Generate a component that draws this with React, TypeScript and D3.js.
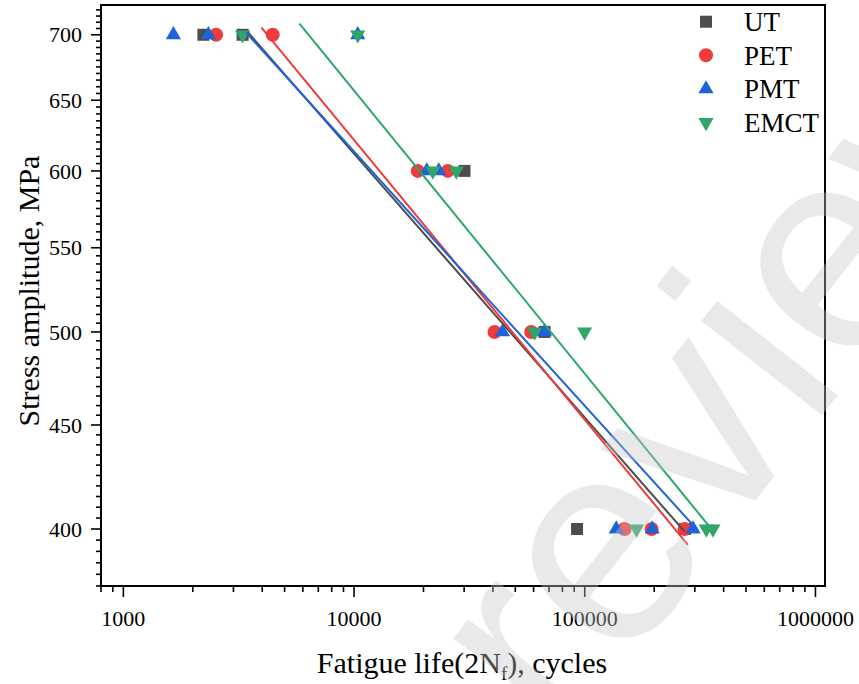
import React, { useEffect, useRef } from 'react';
import * as d3 from 'd3';

// fatigue life (2Nf) and stress amplitude (MPa)
const utLife = [2223, 3289, 30110, 66940, 92600, 272000];
const utStress = [700, 700, 600, 500, 400, 400];

const petLife = [2523, 4441, 18888, 25490, 40630, 58610, 148800, 194900, 270900];
const petStress = [700, 700, 600, 600, 500, 500, 400, 400, 400];

const pmtLife = [1648, 2337, 10375, 20670, 23300, 44000, 66940, 136950, 196200, 294900];
const pmtStress = [700, 700, 700, 600, 600, 500, 500, 400, 400, 400];

const emctLife = [3289, 10375, 21950, 27730, 60570, 99800, 167700, 336400, 359400];
const emctStress = [700, 700, 600, 600, 500, 500, 400, 400, 400];

// fitted line end points [life, stress]
const utFit = [[3450, 702.4], [270900, 398.8]];
const petFit = [[3967, 705.6], [279900, 392.9]];
const pmtFit = [[3410, 701.6], [293400, 402]];
const emctFit = [[5799, 708.8], [347700, 401]];

const seriesNames = ['UT', 'PET', 'PMT', 'EMCT'];
const xTicks = [1000, 10000, 100000, 1000000];
const yTicks = [400, 450, 500, 550, 600, 650, 700];

const colors = ['#4d4d4d', '#ef3b3b', '#1f63d8', '#2ea66a'];
const FONT = '"Liberation Serif", "Times New Roman", serif';

const App = () => {
  const ref = useRef(null);

  useEffect(() => {
    const svg = d3.select(ref.current);
    svg.selectAll('*').remove();

    const width = 859;
    const height = 684;
    const left = 101, right = 825, top = 5, bottom = 586;

    const x = d3.scaleLog().domain([800, 1.1e6]).range([left, right]);
    const y = d3.scaleLog().domain([375, 724]).range([bottom, top]);

    svg.append('rect').attr('width', width).attr('height', height).attr('fill', 'white');

    const series = [
      { life: utLife, stress: utStress, fit: utFit, symbol: d3.symbolSquare, size: 144, rot: 0 },
      { life: petLife, stress: petStress, fit: petFit, symbol: d3.symbolCircle, size: 154, rot: 0 },
      { life: pmtLife, stress: pmtStress, fit: pmtFit, symbol: d3.symbolTriangle, size: 100, rot: 0 },
      { life: emctLife, stress: emctStress, fit: emctFit, symbol: d3.symbolTriangle, size: 100, rot: 180 },
    ];

    // markers
    series.forEach((s, i) => {
      const path = d3.symbol().type(s.symbol).size(s.size)();
      svg.append('g')
        .selectAll('path')
        .data(s.life.map((l, j) => [l, s.stress[j]]))
        .enter()
        .append('path')
        .attr('d', path)
        .attr('fill', colors[i])
        .attr('transform', d => `translate(${x(d[0])},${y(d[1])}) rotate(${s.rot})`);
    });

    // fit lines
    const line = d3.line().x(d => x(d[0])).y(d => y(d[1]));
    series.forEach((s, i) => {
      svg.append('path')
        .attr('d', line(s.fit))
        .attr('fill', 'none')
        .attr('stroke', colors[i])
        .attr('stroke-width', 2);
    });

    // axes
    const xMinor = [];
    for (let e = 2; e <= 6; e++) {
      for (let m = 1; m <= 9; m++) {
        const v = m * Math.pow(10, e);
        if (v >= 800 && v <= 1.1e6 && !xTicks.includes(v)) xMinor.push(v);
      }
    }
    const yMinor = d3.range(375, 725, 5).filter(v => !yTicks.includes(v));

    const axisG = svg.append('g').attr('stroke', 'black').attr('stroke-width', 1.6);
    axisG.selectAll('.xmaj').data(xTicks).enter().append('line')
      .attr('x1', d => x(d)).attr('x2', d => x(d)).attr('y1', bottom).attr('y2', bottom + 11);
    axisG.selectAll('.xmin').data(xMinor).enter().append('line')
      .attr('x1', d => x(d)).attr('x2', d => x(d)).attr('y1', bottom).attr('y2', bottom + 6);
    axisG.selectAll('.ymaj').data(yTicks).enter().append('line')
      .attr('y1', d => y(d)).attr('y2', d => y(d)).attr('x1', left).attr('x2', left - 10);
    axisG.selectAll('.ymin').data(yMinor).enter().append('line')
      .attr('y1', d => y(d)).attr('y2', d => y(d)).attr('x1', left).attr('x2', left - 5);

    svg.append('rect')
      .attr('x', left).attr('y', top)
      .attr('width', right - left).attr('height', bottom - top)
      .attr('fill', 'none').attr('stroke', 'black').attr('stroke-width', 2);

    svg.append('g').selectAll('text').data(xTicks).enter().append('text')
      .attr('x', d => x(d)).attr('y', 626)
      .attr('text-anchor', 'middle')
      .style('font-family', FONT).style('font-size', '22px')
      .text(d => d);

    svg.append('g').selectAll('text').data(yTicks).enter().append('text')
      .attr('x', 82).attr('y', d => y(d)).attr('dy', '0.35em')
      .attr('text-anchor', 'end')
      .style('font-family', FONT).style('font-size', '22px')
      .text(d => d);

    // axis titles
    const xt = svg.append('text')
      .attr('x', 462).attr('y', 673)
      .attr('text-anchor', 'middle')
      .style('font-family', FONT).style('font-size', '30px');
    xt.append('tspan').text('Fatigue life(2N');
    xt.append('tspan').attr('dy', 7).style('font-size', '19px').text('f');
    xt.append('tspan').attr('dy', -7).text('), cycles');

    svg.append('text')
      .attr('transform', 'translate(39,291) rotate(-90)')
      .attr('text-anchor', 'middle')
      .style('font-family', FONT).style('font-size', '30px')
      .text('Stress amplitude, MPa');

    // legend
    const lg = svg.append('g');
    series.forEach((s, i) => {
      const cy = 21.7 + i * 33.6;
      lg.append('path')
        .attr('d', d3.symbol().type(s.symbol).size(s.size)())
        .attr('fill', colors[i])
        .attr('transform', `translate(706,${cy}) rotate(${s.rot})`);
      lg.append('text')
        .attr('x', 744).attr('y', cy).attr('dy', '0.35em')
        .style('font-family', FONT).style('font-size', '27px')
        .text(seriesNames[i]);
    });

    // watermark
    svg.append('text')
      .attr('transform', 'translate(562,748) rotate(-52)')
      .style('font-family', '"Liberation Sans", Arial, sans-serif')
      .style('font-size', '290px')
      .attr('fill', '#c8c8c8')
      .attr('opacity', 0.38)
      .text('review');
  }, []);

  return (
    <svg ref={ref} width={859} height={684} style={{ position: 'absolute', left: 0, top: 0 }}></svg>
  );
};

export default App;
